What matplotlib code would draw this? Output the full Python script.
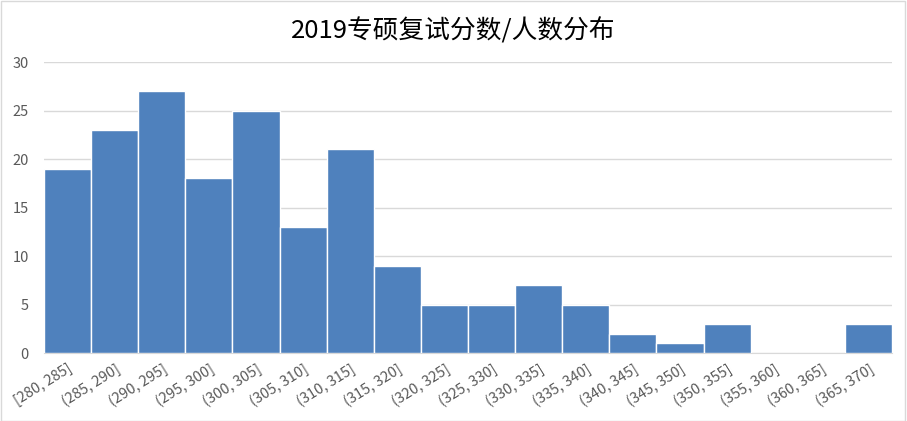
import matplotlib
matplotlib.use('Agg')
import matplotlib.pyplot as plt
from matplotlib.patches import Rectangle

plt.rcParams['font.family'] = ['Noto Sans CJK SC', 'DejaVu Sans']

title = '2019专硕复试分数/人数分布'
bins = ['[280, 285]', '(285, 290]', '(290, 295]', '(295, 300]', '(300, 305]',
        '(305, 310]', '(310, 315]', '(315, 320]', '(320, 325]', '(325, 330]',
        '(330, 335]', '(335, 340]', '(340, 345]', '(345, 350]', '(350, 355]',
        '(355, 360]', '(360, 365]', '(365, 370]']
counts = [19, 23, 27, 18, 25, 13, 21, 9, 5, 5, 7, 5, 2, 1, 3, 0, 0, 3]
yticks = [0, 5, 10, 15, 20, 25, 30]

fg = plt.figure(figsize=(9.07, 4.21), dpi=100)
ax = fg.add_axes([0.0485, 0.1615, 0.935, 0.6912])

x = range(len(counts))
ax.bar(x, counts, width=1.0, color='#4F81BD', edgecolor='white', linewidth=1.0, zorder=3)

ax.set_xlim(-0.5, len(counts) - 0.5)
ax.set_ylim(0, 30)
ax.set_yticks(yticks)
ax.yaxis.grid(True, color='#D9D9D9', linewidth=1.0, zorder=0)
ax.set_xticks(list(x))
ax.set_xticklabels(bins, rotation=32, ha='right', rotation_mode='anchor',
                   fontsize=10.5, color='#595959')
ax.tick_params(axis='y', labelsize=10.5, labelcolor='#595959', length=0, pad=11)
ax.tick_params(axis='x', length=0, pad=6)
for s in ['top', 'right', 'left']:
    ax.spines[s].set_visible(False)
ax.spines['bottom'].set_color('#D9D9D9')

fg.text(0.5, 0.925, title, ha='center', va='center', fontsize=18.5, color='black')

fg.patches.append(Rectangle((0.001, 0.001), 0.997, 0.997, transform=fg.transFigure,
                            fill=False, edgecolor='#D9D9D9', linewidth=1.0))

fg.savefig('out.png', dpi=100)
